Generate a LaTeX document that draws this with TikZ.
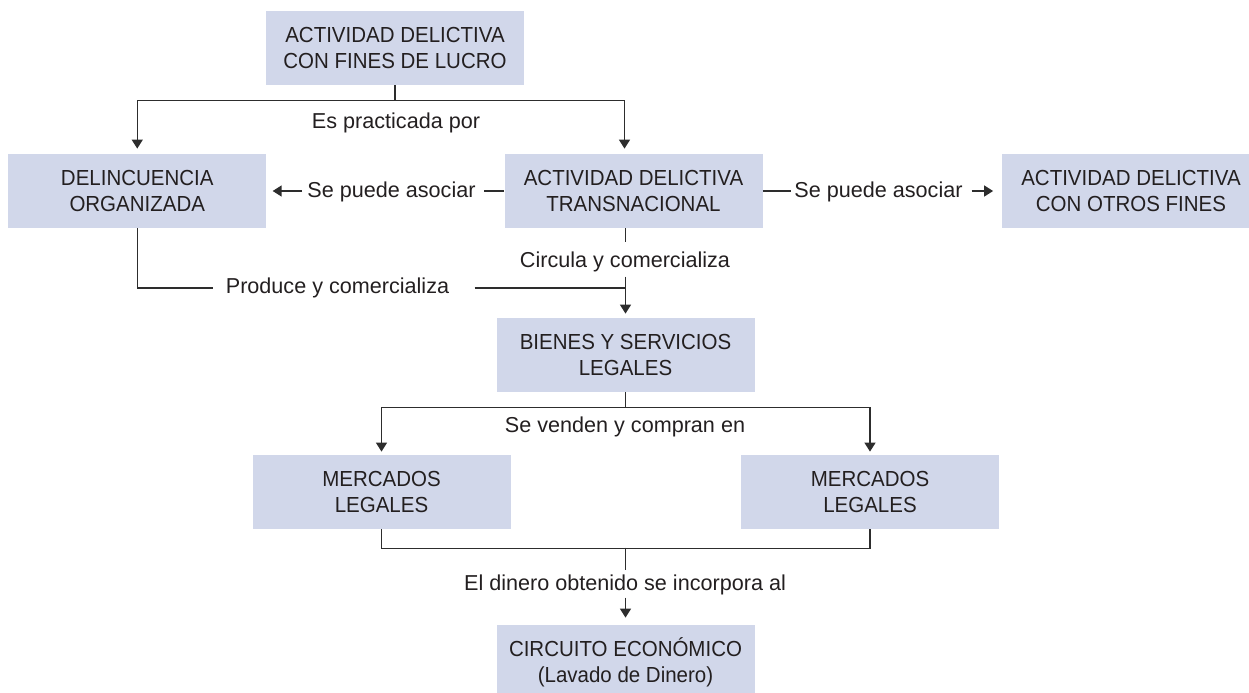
\documentclass[tikz,border=0pt]{standalone}
\usepackage{fontspec}
\setmainfont{Liberation Sans}
\newfontfamily\boxfont[FakeStretch=0.94]{Liberation Sans}
\usetikzlibrary{arrows.meta,calc}
\definecolor{boxfill}{RGB}{209,215,234}
\definecolor{ink}{RGB}{35,31,32}
\definecolor{wirec}{RGB}{45,45,45}
\begin{document}
\begin{tikzpicture}[x=0.5pt,y=-0.5pt,
  box/.style={fill=boxfill,minimum width=129pt,minimum height=37pt,align=center,text=ink,
    font=\boxfont\fontsize{10.9}{13}\selectfont,inner sep=0pt},
  lab/.style={text=ink,font=\fontsize{10.8}{13}\selectfont,inner sep=0pt},
  wire/.style={draw=wirec,line width=0.75pt},
  arr/.style={wire,-{Triangle[width=5.5pt,length=4.5pt]}}]
\useasboundingbox (0,0) rectangle (1249,692);
% boxes
\node[box] (top) at (395,48) {ACTIVIDAD DELICTIVA\\CON FINES DE LUCRO};
\node[box] (deli) at (137.25,191) {DELINCUENCIA\\ORGANIZADA};
\node[box] (trans) at (633.5,191) {ACTIVIDAD DELICTIVA\\TRANSNACIONAL};
\node[box] (otros) at (1131,191) {ACTIVIDAD DELICTIVA\\CON OTROS FINES};
\node[box] (bienes) at (625.5,355) {BIENES Y SERVICIOS\\LEGALES};
\node[box] (merl) at (381.5,492) {MERCADOS\\LEGALES};
\node[box] (merr) at (870,492) {MERCADOS\\LEGALES};
\node[box] (circ) at (625.5,662) {CIRCUITO ECONÓMICO\\(Lavado de Dinero)};
% labels
\node[lab] (l1) at (396,123) {Es practicada por};
\node[lab] (l2) at (391.5,192) {Se puede asociar};
\node[lab] (l3) at (878.5,192) {Se puede asociar};
\node[lab] (l4) at (625,262) {Circula y comercializa};
\node[lab] (l5) at (337.5,288) {Produce y comercializa};
\node[lab] (l6) at (625,427) {Se venden y compran en};
\node[lab] (l7) at (625,585) {El dinero obtenido se incorpora al};
% top split
\draw[wire] (top.south) -- ++(0,15) coordinate (t1);
\draw[arr,shorten >=2.5pt] (t1) -| (deli.north);
\draw[arr,shorten >=2.5pt] (t1) -| ($(trans.north)+(-9,0)$);
% se puede asociar (left)
\draw[wire] (trans.west) -- ($(trans.west)+(-20,0)$);
\draw[arr] ($(deli.east)+(35.5,0)$) -- ($(deli.east)+(6,0)$);
% se puede asociar (right)
\draw[wire] (trans.east) -- ($(trans.east)+(28,0)$);
\draw[arr] ($(otros.west)+(-30,0)$) -- ($(otros.west)+(-8.5,0)$);
% circula
\draw[wire] (bienes.north |- trans.south) -- ++(0,14);
\draw[arr] ($(bienes.north)+(0,-41)$) -- ($(bienes.north)+(0,-4)$);
% produce
\draw[wire] (deli.south) |- ($(l5.west)+(-12,0)$);
\draw[wire] ($(l5.east)+(25,0)$) -- (bienes.north |- l5.east);
% bienes split
\draw[wire] (bienes.south) -- ++(0,15) coordinate (b1);
\draw[arr,shorten >=1.5pt] (b1) -| (merl.north);
\draw[arr,shorten >=1.5pt] (b1) -| (merr.north);
% mercados join
\draw[wire] (merl.south) -- ++(0,19) -| (merr.south);
\draw[wire] ($(circ.north)+(0,-77)$) -- ($(circ.north)+(0,-55)$);
\draw[arr] ($(circ.north)+(0,-27)$) -- ($(circ.north)+(0,-7)$);
\end{tikzpicture}
\end{document}
